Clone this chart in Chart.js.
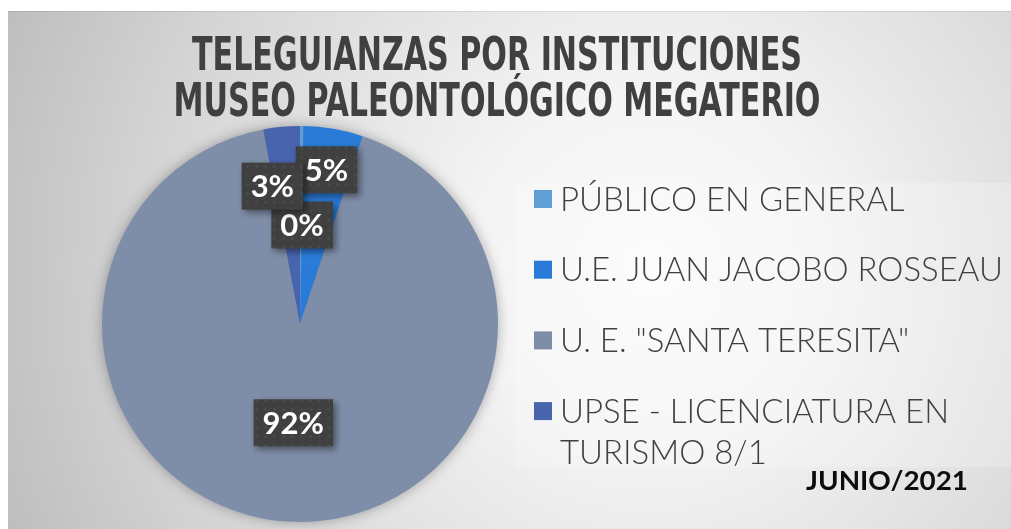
<!DOCTYPE html>
<html><head><meta charset="utf-8">
<script src="https://cdn.jsdelivr.net/npm/chart.js@4.4.0/dist/chart.umd.min.js"></script>
<style>html,body{margin:0;padding:0;background:#fff;overflow:hidden}#wrap{position:relative;width:1011px;height:529px}</style>
</head><body><div id="wrap"><canvas id="c" width="1011" height="529"></canvas></div>
<script>
const titleLines = ['TELEGUIANZAS POR INSTITUCIONES', 'MUSEO PALEONTOLÓGICO MEGATERIO'];
const categories = ['PÚBLICO EN GENERAL', 'U.E. JUAN JACOBO ROSSEAU', 'U. E. "SANTA TERESITA"', 'UPSE - LICENCIATURA EN TURISMO 8/1'];
const legendLines = [['PÚBLICO EN GENERAL'], ['U.E. JUAN JACOBO ROSSEAU'], ['U. E. "SANTA TERESITA"'], ['UPSE - LICENCIATURA EN', 'TURISMO 8/1']];
const values = [1, 18, 340, 11];
const periodLabel = 'JUNIO/2021';
const sliceColors = ['#5f9fd6', '#2a7bd8', '#7f8ea8', '#4864ad'];

// label placement relative to each arc: fraction of radius, angular offset (deg)
const labelPlacement = [{rf: 0.5, da: 0.7}, {rf: 0.79, da: 0}, {rf: 0.5, da: 0}, {rf: 0.71, da: -6}];

function makeDotPattern(ctx) {
  const pc = document.createElement('canvas');
  pc.width = 9; pc.height = 9;
  const p = pc.getContext('2d');
  p.fillStyle = '#404040'; p.fillRect(0, 0, 9, 9);
  p.fillStyle = '#4e4e4e'; p.beginPath(); p.arc(4.5, 4.5, 1.2, 0, Math.PI * 2); p.fill();
  return ctx.createPattern(pc, 'repeat');
}

const backgroundPlugin = {
  id: 'bg',
  beforeDraw(chart) {
    const ctx = chart.ctx, W = chart.width, H = chart.height;
    ctx.save();
    ctx.fillStyle = '#ffffff'; ctx.fillRect(0, 0, W, H);
    const g = ctx.createRadialGradient(650, 270, 0, 650, 270, 700);
    g.addColorStop(0, '#fbfbfb');
    g.addColorStop(0.25, '#f4f4f4');
    g.addColorStop(0.7, '#d6d6d6');
    g.addColorStop(1, '#bdbdbd');
    ctx.fillStyle = g;
    ctx.fillRect(8, 11, W - 8, H - 11);
    ctx.fillStyle = 'rgba(0,0,0,0.08)';
    ctx.fillRect(8, 11, W - 8, 1);
    // legend panel
    ctx.fillStyle = 'rgba(255,255,255,0.22)';
    ctx.fillRect(515, 183, W - 515, 284);
    // title
    ctx.fillStyle = '#404040';
    ctx.textAlign = 'center'; ctx.textBaseline = 'middle';
    ctx.font = 'bold 46px "Liberation Sans Narrow", "DejaVu Sans Condensed", sans-serif';
    const w0 = ctx.measureText(titleLines[0]).width;
    const sx = 610 / w0;
    const ys = [58, 104];
    titleLines.forEach((t, i) => {
      ctx.save(); ctx.translate(497, ys[i]); ctx.scale(sx, 1);
      ctx.fillText(t, 0, 0); ctx.restore();
    });
    ctx.restore();
  },
  beforeDatasetsDraw(chart) {
    const arc = chart.getDatasetMeta(0).data[0];
    if (!arc) return;
    const ctx = chart.ctx;
    ctx.save();
    ctx.shadowColor = 'rgba(0,0,0,0.35)';
    ctx.shadowBlur = 14;
    ctx.fillStyle = '#7f8ea8';
    ctx.beginPath(); ctx.arc(arc.x, arc.y, arc.outerRadius - 1, 0, Math.PI * 2); ctx.fill();
    ctx.restore();
  }
};

const legendPlugin = {
  id: 'customLegend',
  afterDraw(chart) {
    const ctx = chart.ctx;
    ctx.save();
    ctx.textAlign = 'left'; ctx.textBaseline = 'middle';
    let fs = 32;
    const fam = 'px Lato, "Open Sans", sans-serif';
    ctx.font = '300 ' + fs + fam;
    let maxW = 0;
    legendLines.forEach(ls => ls.forEach(l => { maxW = Math.max(maxW, ctx.measureText(l).width); }));
    fs = fs * 443 / maxW;
    ctx.font = '300 ' + fs.toFixed(2) + fam;
    const colors = chart.data.datasets[0].backgroundColor;
    const y0 = 199, step = 70.7, lineH = 41;
    legendLines.forEach((ls, i) => {
      const y = y0 + i * step;
      ctx.fillStyle = colors[i];
      ctx.fillRect(534, y - 9, 18, 18);
      ctx.fillStyle = '#404040';
      ls.forEach((l, j) => ctx.fillText(l, 560, y + j * lineH + 1));
    });
    // period label
    ctx.fillStyle = '#0d0d0d';
    ctx.font = 'bold 27px Lato, "DejaVu Sans", sans-serif';
    const pw = ctx.measureText(periodLabel).width;
    ctx.save(); ctx.translate(887, 481); ctx.scale(162 / pw, 1);
    ctx.textAlign = 'center';
    ctx.fillText(periodLabel, 0, 0);
    ctx.restore();
    ctx.restore();
  }
};

const dataLabelPlugin = {
  id: 'boxLabels',
  afterDatasetsDraw(chart) {
    const ctx = chart.ctx;
    const meta = chart.getDatasetMeta(0);
    const data = chart.data.datasets[0].data;
    const total = data.reduce((a, b) => a + b, 0);
    const pattern = makeDotPattern(ctx);
    ctx.save();
    ctx.font = 'bold 31px Lato, "DejaVu Sans", sans-serif';
    ctx.textAlign = 'center'; ctx.textBaseline = 'middle';
    meta.data.forEach((arc, i) => {
      const pl = labelPlacement[i];
      const mid = (arc.startAngle + arc.endAngle) / 2 + pl.da * Math.PI / 180;
      const r = arc.outerRadius * pl.rf;
      const cx = arc.x + Math.cos(mid) * r;
      const cy = arc.y + Math.sin(mid) * r;
      const txt = Math.round(data[i] / total * 100) + '%';
      const tw = ctx.measureText(txt).width;
      const bw = tw + 18, bh = 47;
      ctx.save();
      ctx.shadowColor = 'rgba(0,0,0,0.45)';
      ctx.shadowBlur = 7; ctx.shadowOffsetX = 3; ctx.shadowOffsetY = 3;
      ctx.fillStyle = pattern;
      ctx.fillRect(cx - bw / 2, cy - bh / 2, bw, bh);
      ctx.restore();
      ctx.fillStyle = '#ffffff';
      ctx.fillText(txt, cx, cy + 1);
    });
    ctx.restore();
  }
};

new Chart(document.getElementById('c'), {
  type: 'pie',
  data: {
    labels: categories,
    datasets: [{
      data: values,
      backgroundColor: sliceColors,
      borderWidth: 0
    }]
  },
  options: {
    responsive: false,
    animation: false,
    layout: {padding: {top: 126, bottom: 7, left: 102, right: 513}},
    plugins: {
      legend: {display: false},
      tooltip: {enabled: false},
      title: {display: false}
    }
  },
  plugins: [backgroundPlugin, legendPlugin, dataLabelPlugin]
});
</script>
</body></html>
